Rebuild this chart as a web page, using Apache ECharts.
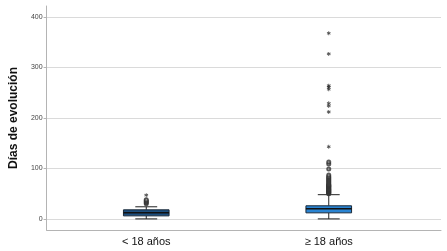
<!DOCTYPE html>
<html>
<head>
<meta charset="utf-8">
<script src="https://cdn.jsdelivr.net/npm/echarts@6/dist/echarts.min.js"></script>
<style>
  html, body { margin: 0; padding: 0; background: #fff; }
  #chart { width: 447px; height: 251px; }
</style>
</head>
<body>
<div id="chart"></div>
<script>
// grupos de edad
const categories = ["< 18 años", "≥ 18 años"];
// [min, Q1, mediana, Q3, max] de cada grupo
const boxStats = [
  [0, 6, 12, 18, 24],
  [0, 12, 20, 26, 48]
];
const boxColors = ["#1d4e7e", "#2a84d2"];
// atípicos (círculos) y extremos (asteriscos)
const outliersMenor = [30, 32, 34, 36, 38];
const extremosMenor = [47];
const outliersMayor = [50, 51, 52, 53, 54, 55, 56, 57, 58, 59, 60, 61, 62, 63, 64, 65, 66, 67, 68, 70, 72, 74, 76, 78, 80, 82, 84, 87, 99, 109, 113];
const extremosMayor = [143, 212, 224, 229, 257, 261, 264, 327, 368];
const yTicks = [0, 100, 200, 300, 400];

const chart = echarts.init(document.getElementById("chart"));

const toPoints = (idx, arr) => arr.map(v => [idx, v]);
const starPath = "path://M4,0h2v3.3l2.9-1.7 1,1.7-2.9,1.7 2.9,1.7-1,1.7-2.9-1.7v3.3h-2v-3.3l-2.9,1.7-1-1.7 2.9-1.7-2.9-1.7 1-1.7 2.9,1.7z";

const option = {
  animation: false,
  grid: [
    { left: 33, right: 6, top: 6, bottom: 21 },
    { left: 55, right: 27, top: 6, bottom: 21 }
  ],
  xAxis: [
    {
      gridIndex: 0, type: "category", data: [""],
      axisLine: { onZero: false, lineStyle: { color: "#b4b4b4" } },
      axisTick: { show: false }, axisLabel: { show: false }
    },
    {
      gridIndex: 1, type: "category", data: categories,
      axisLine: { show: false }, axisTick: { show: false },
      axisLabel: { color: "#111", fontSize: 11, fontFamily: "Liberation Sans", margin: 6 }
    }
  ],
  yAxis: [
    {
      gridIndex: 0, type: "value", min: -22, max: 422,
      name: "Días de evolución", nameLocation: "middle", nameRotate: 90, nameGap: 25,
      nameTextStyle: { fontSize: 12, fontWeight: "bold", color: "#111", fontFamily: "Liberation Sans" },
      axisLine: { show: true, lineStyle: { color: "#b4b4b4" } },
      axisTick: { show: true, length: 3, customValues: yTicks, lineStyle: { color: "#b4b4b4" } },
      axisLabel: { customValues: yTicks, fontSize: 7, color: "#444", margin: 4, fontFamily: "Liberation Sans" },
      splitLine: { show: true, lineStyle: { color: "#dadada" } }
    },
    {
      gridIndex: 1, type: "value", min: -22, max: 422, show: false,
      splitLine: { show: false }
    }
  ],
  series: [
    {
      type: "custom",
      xAxisIndex: 1, yAxisIndex: 1,
      data: boxStats.map((s, i) => [i].concat(s)),
      renderItem: function (params, api) {
        const idx = api.value(0);
        const band = api.size([1, 0])[0];
        const half = band * 0.125;
        const cap = band * 0.06;
        const pMin = api.coord([idx, api.value(1)]);
        const pQ1 = api.coord([idx, api.value(2)]);
        const pMed = api.coord([idx, api.value(3)]);
        const pQ3 = api.coord([idx, api.value(4)]);
        const pMax = api.coord([idx, api.value(5)]);
        const x = pMed[0];
        const line = { stroke: "#222", lineWidth: 1 };
        return {
          type: "group",
          children: [
            { type: "line", shape: { x1: x, y1: pMax[1], x2: x, y2: pQ3[1] }, style: line },
            { type: "line", shape: { x1: x, y1: pQ1[1], x2: x, y2: pMin[1] }, style: line },
            { type: "line", shape: { x1: x - cap, y1: pMax[1], x2: x + cap, y2: pMax[1] }, style: line },
            { type: "line", shape: { x1: x - cap, y1: pMin[1], x2: x + cap, y2: pMin[1] }, style: line },
            {
              type: "rect",
              shape: { x: x - half, y: pQ3[1], width: half * 2, height: pQ1[1] - pQ3[1] },
              style: { fill: boxColors[idx], stroke: "#1a2a3a", lineWidth: 1 }
            },
            { type: "line", shape: { x1: x - half, y1: pMed[1], x2: x + half, y2: pMed[1] }, style: { stroke: "#111", lineWidth: 1.5 } }
          ]
        };
      }
    },
    {
      type: "scatter", xAxisIndex: 1, yAxisIndex: 1,
      data: toPoints(0, outliersMenor).concat(toPoints(1, outliersMayor)),
      symbol: "emptyCircle", symbolSize: 3,
      itemStyle: { color: "#333", borderWidth: 0.8 }
    },
    {
      type: "scatter", xAxisIndex: 1, yAxisIndex: 1,
      data: toPoints(0, extremosMenor).concat(toPoints(1, extremosMayor)),
      symbol: starPath, symbolSize: 4,
      itemStyle: { color: "#222" }
    }
  ]
};

chart.setOption(option);
</script>
</body>
</html>
